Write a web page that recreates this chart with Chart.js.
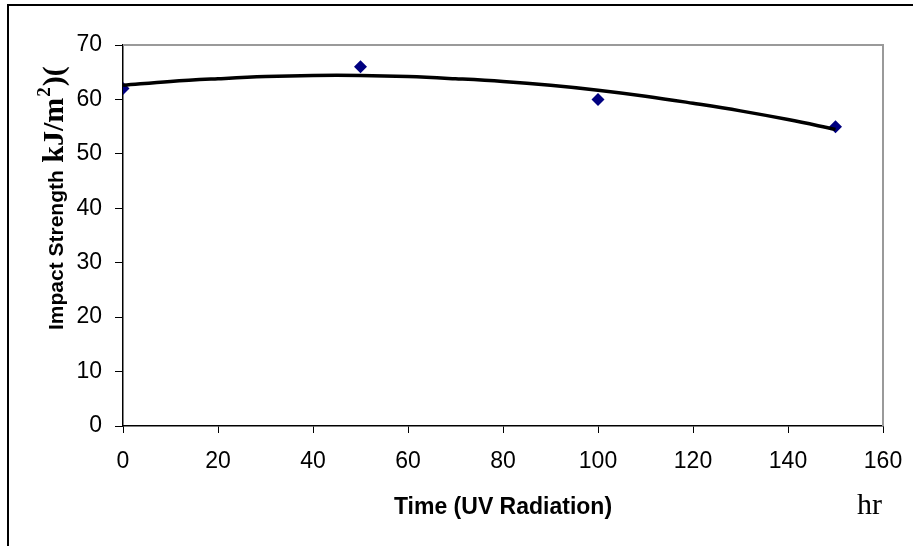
<!DOCTYPE html>
<html>
<head>
<meta charset="utf-8">
<script src="https://cdn.jsdelivr.net/npm/chart.js@4/dist/chart.umd.min.js"></script>
<style>
  html, body { margin: 0; padding: 0; background: #fff; }
  #wrap { position: relative; width: 913px; height: 546px; }
</style>
</head>
<body>
<div id="wrap"><canvas id="impactChart" width="913" height="546"></canvas></div>
<script>
// Measured points (hours of UV exposure vs impact strength)
const timeHours = [0, 50, 100, 150];
const impactValues = [62, 66, 60, 55];

// Trend line
const trendHours = [0, 10, 20, 30, 40, 50, 60, 70, 80, 90, 100, 110, 120, 130, 140, 150];
const trendValues = [62.6, 63.3, 63.8, 64.2, 64.4, 64.4, 64.2, 63.8, 63.3, 62.6, 61.7, 60.6, 59.3, 57.9, 56.3, 54.5];

// Axis ranges
const xTicks = { min: 0, max: 160, step: 20 };
const yTicks = { min: 0, max: 70, step: 10 };

const xTitle = 'Time (UV Radiation)';
const xUnit = 'hr';
const yTitleSans = 'Impact Strength';
const yTitleSerif = ' kJ/m';
const yTitleSup = '2';
const yTitleTail = ')(';

Chart.defaults.color = '#000';
Chart.defaults.font.family = '"Liberation Sans", Arial, sans-serif';

// frame, gray plot border and the axis titles
const decorPlugin = {
    id: 'decor',
    beforeDatasetsDraw(chart) {
        const ctx = chart.ctx;
        const a = chart.chartArea;
        ctx.save();
        ctx.strokeStyle = '#9a9a9a';
        ctx.lineWidth = 2;
        ctx.beginPath();
        ctx.moveTo(a.left, a.top);
        ctx.lineTo(a.right, a.top);
        ctx.lineTo(a.right, a.bottom);
        ctx.stroke();
        ctx.restore();
    },
    afterDraw(chart) {
        const ctx = chart.ctx;
        const a = chart.chartArea;
        ctx.save();
        // outer frame (top and left only)
        ctx.strokeStyle = '#000';
        ctx.lineWidth = 2;
        ctx.beginPath();
        ctx.moveTo(8, 546);
        ctx.lineTo(8, 5);
        ctx.lineTo(913, 5);
        ctx.stroke();

        // x title
        ctx.fillStyle = '#000';
        ctx.textBaseline = 'alphabetic';
        ctx.textAlign = 'center';
        ctx.font = 'bold 23px "Liberation Sans", Arial, sans-serif';
        ctx.fillText(xTitle, (a.left + a.right) / 2, 514);

        ctx.textAlign = 'left';
        ctx.font = '30px "Liberation Serif", "Times New Roman", serif';
        ctx.fillText(xUnit, 857, 514);

        // y title, mixed fonts, reading upward
        ctx.translate(63, 330);
        ctx.rotate(-Math.PI / 2);
        let x = 0;
        ctx.font = 'bold 21px "Liberation Sans", Arial, sans-serif';
        ctx.fillText(yTitleSans, x, 0);
        x += ctx.measureText(yTitleSans).width;
        ctx.font = 'bold 30px "Liberation Serif", "Times New Roman", serif';
        ctx.fillText(yTitleSerif, x, 0);
        x += ctx.measureText(yTitleSerif).width + 1;
        ctx.font = 'bold 19px "Liberation Serif", "Times New Roman", serif';
        ctx.fillText(yTitleSup, x, -13);
        x += ctx.measureText(yTitleSup).width + 1;
        ctx.font = 'bold 30px "Liberation Serif", "Times New Roman", serif';
        ctx.fillText(yTitleTail, x, 0);
        ctx.restore();
    }
};

const trendPoints = trendHours.map((h, i) => ({ x: h, y: trendValues[i] }));
const measuredPoints = timeHours.map((h, i) => ({ x: h, y: impactValues[i] }));

const ctx = document.getElementById('impactChart').getContext('2d');
const impactChart = new Chart(ctx, {
    type: 'scatter',
    data: {
        datasets: [
            {
                label: 'Trend',
                data: trendPoints,
                showLine: true,
                borderColor: '#000',
                borderWidth: 3.5,
                pointRadius: 0,
                tension: 0.4,
                fill: false
            },
            {
                label: 'Impact Strength',
                data: measuredPoints,
                pointStyle: 'rectRot',
                pointRadius: 6.5,
                backgroundColor: '#000080',
                borderColor: '#000080',
                borderWidth: 0
            }
        ]
    },
    options: {
        responsive: false,
        animation: false,
        layout: { padding: { left: 0, top: 45, right: 30, bottom: 0 } },
        plugins: {
            legend: { display: false },
            tooltip: { enabled: false }
        },
        scales: {
            x: {
                type: 'linear',
                min: xTicks.min,
                max: xTicks.max,
                afterFit: (scale) => {
                    scale.height = 120;
                    scale.paddingLeft = 0;
                    scale.paddingRight = 0;
                },
                ticks: {
                    stepSize: xTicks.step,
                    maxRotation: 0,
                    padding: 15,
                    font: { size: 23 }
                },
                grid: {
                    drawOnChartArea: false,
                    drawTicks: true,
                    tickLength: 7,
                    color: '#000'
                },
                border: { display: true, color: '#000', width: 1.5 }
            },
            y: {
                min: yTicks.min,
                max: yTicks.max,
                afterFit: (scale) => { scale.width = 123; },
                ticks: {
                    stepSize: yTicks.step,
                    padding: 13,
                    font: { size: 23 }
                },
                grid: {
                    drawOnChartArea: false,
                    drawTicks: true,
                    tickLength: 8,
                    color: '#000'
                },
                border: { display: true, color: '#000', width: 1.5 }
            }
        }
    },
    plugins: [decorPlugin]
});
</script>
</body>
</html>
